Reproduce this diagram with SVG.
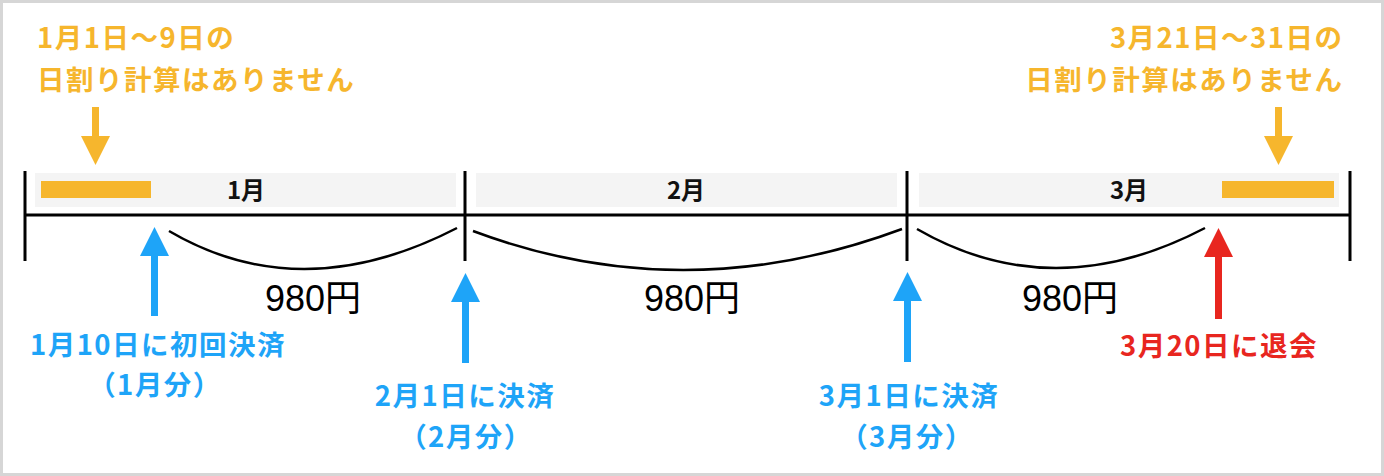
<svg xmlns="http://www.w3.org/2000/svg" width="1384" height="476" viewBox="0 0 1384 476">
<defs>
<style>
.lbl{font-family:"Noto Sans CJK JP","Liberation Sans",sans-serif;font-weight:bold;font-size:27.5px;letter-spacing:1.5px}
.or{fill:#f6b62d}
.bl{fill:#1ea4f8}
.rd{fill:#e8261f}
.mon{font-family:"Noto Sans CJK JP","Liberation Sans",sans-serif;font-weight:bold;font-size:24px;fill:#111;text-anchor:middle}
.yen{font-family:"Liberation Sans","Noto Sans CJK JP",sans-serif;font-size:36px;fill:#000;text-anchor:middle}
.bar{fill:#f4f4f4}
.obar{fill:#f6b62d}
.tl{stroke:#000;stroke-width:3;fill:none}
.cv{stroke:#000;stroke-width:2.5;fill:none}
.ab{stroke:#1ea4f8;stroke-width:7;fill:none}
.ar{stroke:#e8261f;stroke-width:7;fill:none}
.ao{stroke:#f6b62d;stroke-width:7;fill:none}
</style>
<marker id="hb" viewBox="0 0 29 29" markerWidth="29" markerHeight="29" markerUnits="userSpaceOnUse" refX="1" refY="14.5" orient="auto"><path d="M0,0 L29,14.5 L0,29 Z" fill="#1ea4f8"/></marker>
<marker id="hr" viewBox="0 0 29 29" markerWidth="29" markerHeight="29" markerUnits="userSpaceOnUse" refX="1" refY="14.5" orient="auto"><path d="M0,0 L29,14.5 L0,29 Z" fill="#e8261f"/></marker>
<marker id="ho" viewBox="0 0 29 29" markerWidth="29" markerHeight="29" markerUnits="userSpaceOnUse" refX="1" refY="14.5" orient="auto"><path d="M0,0 L29,14.5 L0,29 Z" fill="#f6b62d"/></marker>
</defs>
<rect x="1.5" y="1.5" width="1381" height="473" fill="#fff" stroke="#d6d6d6" stroke-width="3"/>

<g id="month-jan">
<rect class="bar" x="35" y="173" width="421" height="34"/>
<rect class="obar" x="41" y="181" width="110" height="17"/>
<text class="mon" x="246" y="199">1月</text>
</g>
<g id="month-feb">
<rect class="bar" x="476" y="173" width="421" height="34"/>
<text class="mon" x="686" y="199">2月</text>
</g>
<g id="month-mar">
<rect class="bar" x="919" y="173" width="420" height="34"/>
<rect class="obar" x="1222" y="181" width="112" height="17"/>
<text class="mon" x="1129" y="199">3月</text>
</g>

<g id="timeline">
<path class="tl" d="M25,215 H1350"/>
<path class="tl" d="M25,171 V261 M465,171 V261 M907,171 V261 M1350,171 V261"/>
</g>

<g id="connectors">
<path class="cv" d="M169,231 Q301,308.5 457,228"/>
<path class="cv" d="M473,231 Q684.5,310 902,229"/>
<path class="cv" d="M917,229 Q1053,307.5 1205,228"/>
<path class="ao" d="M95.5,107 V137" marker-end="url(#ho)"/>
<path class="ao" d="M1278.5,107 V137" marker-end="url(#ho)"/>
<path class="ab" d="M154.5,316 V255" marker-end="url(#hb)"/>
<path class="ab" d="M465.5,363 V301" marker-end="url(#hb)"/>
<path class="ab" d="M907.5,362 V300" marker-end="url(#hb)"/>
<path class="ar" d="M1218.5,319 V256" marker-end="url(#hr)"/>
</g>

<g id="note-left">
<text class="lbl or" x="37" y="48">1月1日〜9日の</text>
<text class="lbl or" x="37" y="90">日割り計算はありません</text>
</g>
<g id="note-right">
<text class="lbl or" x="1343.5" y="48" text-anchor="end">3月21日〜31日の</text>
<text class="lbl or" x="1343.5" y="90" text-anchor="end">日割り計算はありません</text>
</g>

<g id="fee-1"><text class="yen" x="313" y="311">980円</text></g>
<g id="fee-2"><text class="yen" x="692" y="311">980円</text></g>
<g id="fee-3"><text class="yen" x="1070" y="311">980円</text></g>

<g id="pay-jan">
<text class="lbl bl" x="158" y="355" text-anchor="middle">1月10日に初回決済</text>
<text class="lbl bl" x="155" y="395" text-anchor="middle">（1月分）</text>
</g>
<g id="pay-feb">
<text class="lbl bl" x="465" y="406" text-anchor="middle">2月1日に決済</text>
<text class="lbl bl" x="466" y="447" text-anchor="middle">（2月分）</text>
</g>
<g id="pay-mar">
<text class="lbl bl" x="909" y="406" text-anchor="middle">3月1日に決済</text>
<text class="lbl bl" x="907" y="447" text-anchor="middle">（3月分）</text>
</g>
<g id="cancel">
<text class="lbl rd" x="1219" y="356" text-anchor="middle">3月20日に退会</text>
</g>
</svg>
